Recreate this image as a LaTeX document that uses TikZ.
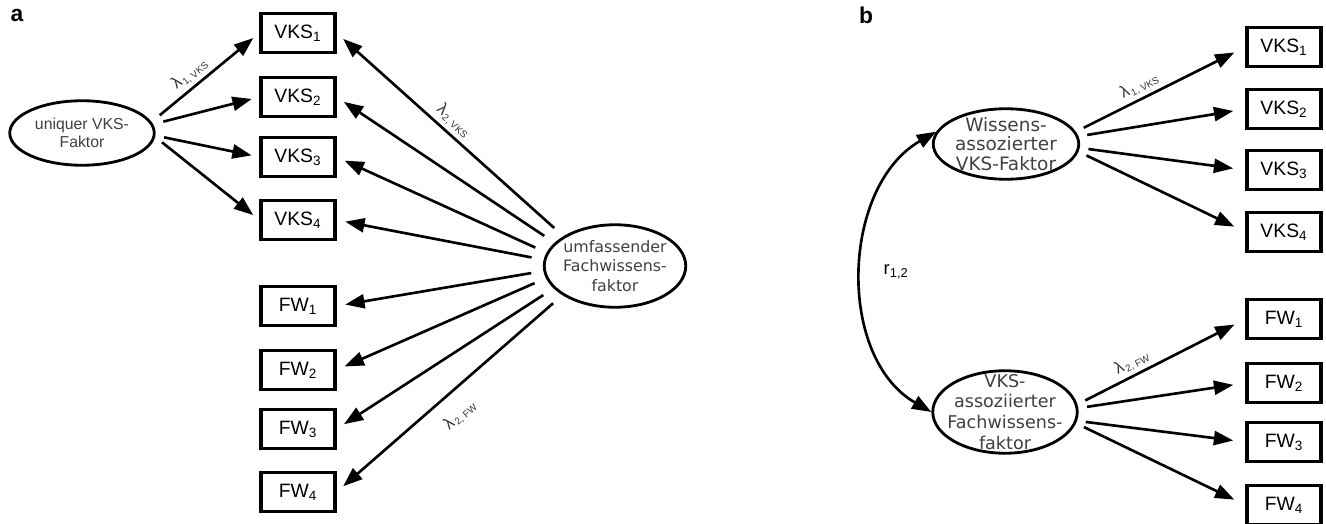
\documentclass[tikz,border=0pt]{standalone}
\usepackage{fontspec}
\setmainfont{Liberation Sans}
\newfontfamily\verafont{DejaVu Sans}
\usetikzlibrary{arrows.meta, shapes.geometric}

\newcommand{\loadlab}[1]{{\fontsize{9.5}{9.5}\selectfont λ}\kern0.6pt\textsubscript{\fontsize{5.5}{5.5}\selectfont #1}}

\begin{document}
\begin{tikzpicture}[
  panel/.style={font=\fontsize{13}{13}\selectfont\bfseries, inner sep=0pt},
  factor/.style={draw, ellipse, line width=1.6pt, inner sep=0pt},
  ftext/.style={text=black!75, align=center, inner sep=0pt},
  indicator/.style={draw, line width=1.8pt, minimum width=1.48cm, minimum height=0.78cm, font=\fontsize{11}{13}\selectfont},
  loading/.style={-{Triangle[length=11pt, width=8pt]}, line width=1.5pt},
  corr/.style={{Triangle[length=11pt, width=8pt]}-{Triangle[length=11pt, width=8pt]}, line width=1.5pt},
  coef/.style={sloped, text=black!80, inner sep=2pt}
]
\useasboundingbox (0,0) rectangle (26.52,-10.48);

% panel a
\node[panel] (la) at (0.34,-0.30) {a};
\node[factor, minimum width=2.89cm, minimum height=1.29cm,
  label={[ftext, font=\fontsize{9}{10}\selectfont]center:uniquer VKS-\\Faktor}] (uvf) at (1.64,-2.66) {};
\node[factor, minimum width=2.83cm, minimum height=1.65cm,
  label={[ftext, font=\verafont\fontsize{9}{11}\selectfont]center:umfassender\\Fachwissens-\\faktor}] (ufw) at (12.30,-5.32) {};

\node[indicator] (va1) at (5.96,-0.66) {VKS\textsubscript{1}};
\node[indicator] (va2) at (5.96,-1.94) {VKS\textsubscript{2}};
\node[indicator] (va3) at (5.96,-3.14) {VKS\textsubscript{3}};
\node[indicator] (va4) at (5.96,-4.40) {VKS\textsubscript{4}};
\node[indicator] (fa1) at (5.96,-6.12) {FW\textsubscript{1}};
\node[indicator] (fa2) at (5.96,-7.40) {FW\textsubscript{2}};
\node[indicator] (fa3) at (5.96,-8.58) {FW\textsubscript{3}};
\node[indicator] (fa4) at (5.96,-9.84) {FW\textsubscript{4}};

\draw[loading, shorten <=6pt, shorten >=4.5pt] (uvf.9) -- (va1.west) node[coef, pos=0.43, above] {\loadlab{1, VKS}};
\draw[loading, shorten <=6pt, shorten >=4.5pt] (uvf.7) -- (va2.west);
\draw[loading, shorten <=5pt, shorten >=4.5pt] (uvf.-2) -- (va3.west);
\draw[loading, shorten <=5pt, shorten >=4.5pt] (uvf.-3) -- (va4.west);

\draw[loading, shorten <=7pt, shorten >=5pt] (ufw.150) -- (va1.east) node[coef, pos=0.52, above] {\loadlab{2, VKS}};
\draw[loading, shorten <=7pt, shorten >=5pt] (ufw.159) -- (va2.east);
\draw[loading, shorten <=7pt, shorten >=5pt] (ufw.169) -- (va3.east);
\draw[loading, shorten <=7pt, shorten >=5pt] (ufw.175) -- (va4.east);
\draw[loading, shorten <=7pt, shorten >=5pt] (ufw.184) -- (fa1.east);
\draw[loading, shorten <=7pt, shorten >=5pt] (ufw.190) -- (fa2.east);
\draw[loading, shorten <=7pt, shorten >=5pt] (ufw.200) -- (fa3.east);
\draw[loading, shorten <=7pt, shorten >=5pt] (ufw.209) -- (fa4.east) node[coef, pos=0.52, below=6pt] {\loadlab{2, FW}};

% panel b
\node[panel] (lb) at (17.32,-0.30) {b};
\node[factor, minimum width=2.91cm, minimum height=1.41cm,
  label={[ftext, font=\verafont\fontsize{10.5}{11.3}\selectfont]center:Wissens-\\assozierter\\VKS-Faktor}] (wva) at (20.12,-2.88) {};
\node[factor, minimum width=2.89cm, minimum height=1.65cm,
  label={[ftext, font=\verafont\fontsize{10}{11.9}\selectfont]center:VKS-\\assoziierter\\Fachwissens-\\faktor}] (vaf) at (20.10,-8.24) {};

\node[indicator] (vb1) at (25.68,-0.94) {VKS\textsubscript{1}};
\node[indicator] (vb2) at (25.68,-2.18) {VKS\textsubscript{2}};
\node[indicator] (vb3) at (25.68,-3.40) {VKS\textsubscript{3}};
\node[indicator] (vb4) at (25.68,-4.64) {VKS\textsubscript{4}};
\node[indicator] (fb1) at (25.68,-6.38) {FW\textsubscript{1}};
\node[indicator] (fb2) at (25.68,-7.66) {FW\textsubscript{2}};
\node[indicator] (fb3) at (25.68,-8.84) {FW\textsubscript{3}};
\node[indicator] (fb4) at (25.68,-10.10) {FW\textsubscript{4}};

\draw[loading, shorten <=5pt, shorten >=7pt] (wva.10) -- (vb1.west) node[coef, pos=0.41, above] {\loadlab{1, VKS}};
\draw[loading, shorten <=5pt, shorten >=7pt] (wva.6) -- (vb2.west);
\draw[loading, shorten <=5pt, shorten >=7pt] (wva.-3) -- (vb3.west);
\draw[loading, shorten <=5pt, shorten >=7pt] (wva.-6) -- (vb4.west);

\draw[loading, shorten <=5pt, shorten >=7pt] (vaf.6) -- (fb1.west) node[coef, pos=0.36, above] {\loadlab{2, FW}};
\draw[loading, shorten <=5pt, shorten >=7pt] (vaf.3) -- (fb2.west);
\draw[loading, shorten <=5pt, shorten >=7pt] (vaf.-7) -- (fb3.west);
\draw[loading, shorten <=5pt, shorten >=7pt] (vaf.-9) -- (fb4.west);

\draw[corr] (wva.170) to[out=210, in=150]
  node[midway, right=8pt, font=\fontsize{10.5}{12}\selectfont] {r\textsubscript{1,2}} (vaf.west);

\end{tikzpicture}
\end{document}
